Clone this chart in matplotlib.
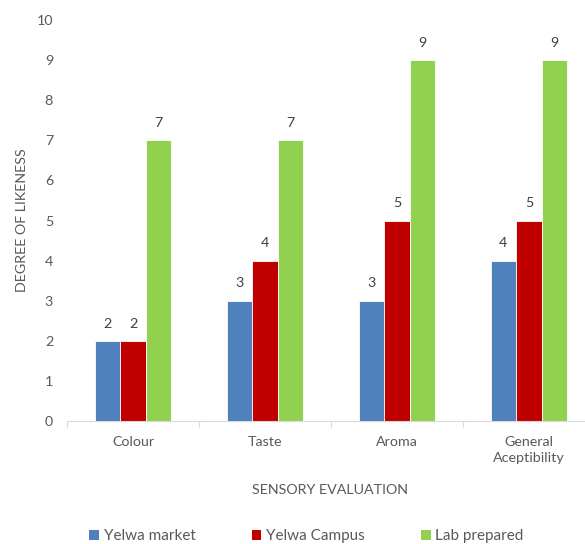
import matplotlib
matplotlib.use("Agg")
import matplotlib.pyplot as plt
import numpy as np
from matplotlib.patches import Patch

categories = ["Colour", "Taste", "Aroma", "General\nAceptibility"]
series_names = ["Yelwa market", "Yelwa Campus", "Lab prepared"]
yelwa_market = [2, 3, 3, 4]
yelwa_campus = [2, 4, 5, 5]
lab_prepared = [7, 7, 9, 9]
colors = ["#4f81bd", "#c00000", "#92d050"]

plt.rcParams['font.family'] = ['Lato', 'DejaVu Sans']
FS = 10.3
fig = plt.figure(figsize=(5.85, 5.44), dpi=100)
ax = fig.add_axes([67/585, 123/544, 528/585, 401/544])

x = np.arange(len(categories))
w = 0.194
all_series = [yelwa_market, yelwa_campus, lab_prepared]
for i, (vals, c) in enumerate(zip(all_series, colors)):
    bars = ax.bar(x + (i - 1) * w, vals, width=w, color=c, edgecolor="white", linewidth=0.6)
    for b, v in zip(bars, vals):
        ax.text(b.get_x() + b.get_width()/2, v + 0.28, str(v), ha="center", va="bottom",
                fontsize=FS, color="#404040")

ax.set_xlim(-0.5, len(categories) - 0.5)
ax.set_ylim(0, 10)
ax.set_yticks(range(0, 11))
ax.tick_params(axis="y", length=0, labelsize=FS, labelcolor="#595959", pad=10)
ax.set_xticks(x)
ax.set_xticklabels(categories, fontsize=FS, color="#595959", linespacing=1.35)
ax.tick_params(axis="x", length=0, pad=11)
ax.set_xticks(np.arange(-0.5, len(categories), 1), minor=True)
ax.tick_params(axis="x", which="minor", length=4, color="#d9d9d9", width=0.8)
for s in ["top", "right", "left"]:
    ax.spines[s].set_visible(False)
ax.spines["bottom"].set_color("#d9d9d9")
ax.spines["bottom"].set_linewidth(0.8)

ax.set_ylabel("DEGREE OF LIKENESS", fontsize=FS, color="#595959")
ax.yaxis.set_label_coords(-(67 - 28) / 528, 0.5)
ax.set_xlabel("SENSORY EVALUATION", fontsize=FS, color="#595959")
ax.xaxis.set_label_coords((330 - 67) / 528, -(484 - 421) / 401)

handles = [Patch(facecolor=c, edgecolor="none") for c in colors]
fig.legend(handles, series_names, loc="center", bbox_to_anchor=(0.524, 1 - 536/544), ncol=3,
           frameon=False, fontsize=11, labelcolor="#595959", handlelength=0.62, handleheight=0.62,
           columnspacing=3.7, handletextpad=0.3)

fig.savefig("out.png", dpi=100)
